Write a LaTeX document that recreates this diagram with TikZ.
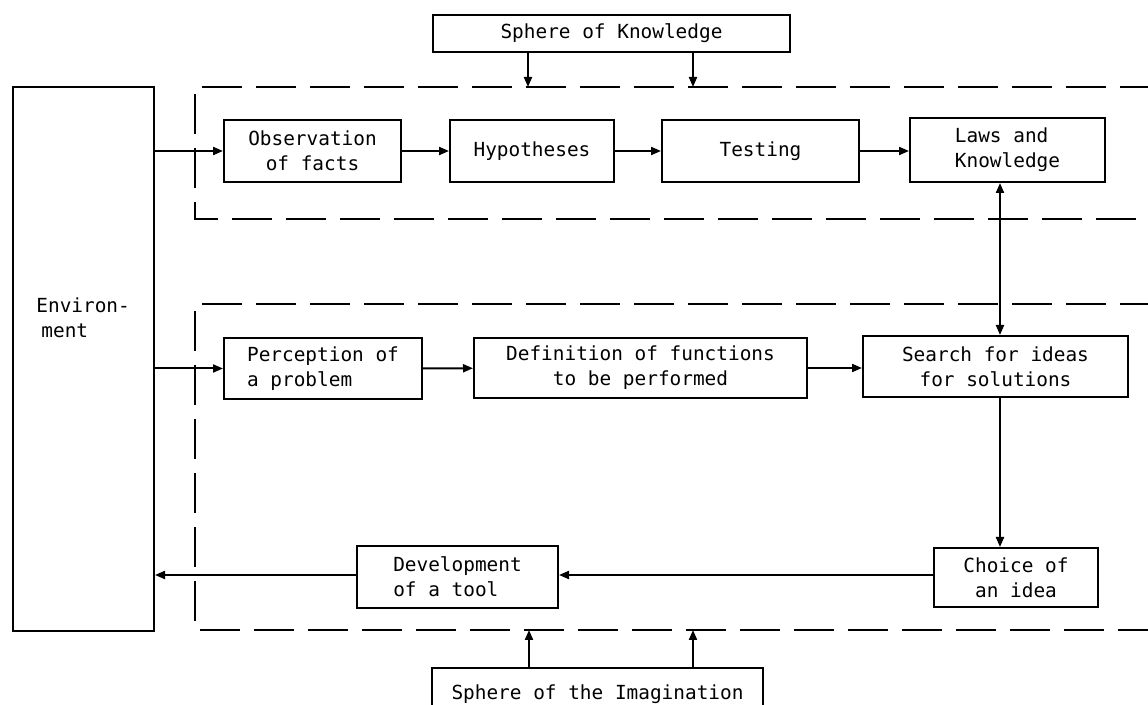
\documentclass[tikz,border=0pt]{standalone}
\usepackage{fontspec}
\setmonofont{DejaVu Sans Mono}
\usetikzlibrary{arrows.meta}
\begin{document}
\begin{tikzpicture}[x=0.5pt,y=-0.5pt,
    box/.style={draw,line width=1pt,inner sep=0pt,align=center,font=\ttfamily\fontsize{9.7}{12.5}\selectfont},
    txt/.style={inner sep=0pt,align=left,font=\ttfamily\fontsize{9.7}{12.5}\selectfont},
    arr/.style={line width=1pt,-{Triangle[length=5pt,width=4pt]}},
    dblarr/.style={line width=1pt,{Triangle[length=5pt,width=4pt]}-{Triangle[length=5pt,width=4pt]}},
    region/.style={line width=1pt,dash pattern=on 20pt off 7pt}]
    \clip (0,0) rectangle (1148,705);
    \fill[white] (0,0) rectangle (1148,705);
    % Spheres and environment
    \node[box,minimum width=178.5pt,minimum height=18.5pt] (know) at (611.5,33.5) {Sphere of Knowledge};
    \node[box,minimum width=165.5pt,minimum height=26pt] (imag) at (597.5,694) {Sphere of the Imagination};
    \node[box,minimum width=70.5pt,minimum height=272pt] (env) at (83.5,359) {};
    \node[txt,anchor=west] (envtext) at (36,318) {Environ-\\\hspace{2.5pt}ment};
    % Dashed regions, open to the right
    \draw[region] (1160,87) -- (195,87) -- (195,219) -- (1160,219);
    \draw[region] (1160,304) -- (195,304) -- (195,630) -- (1160,630);
    % Upper row
    \node[box,minimum width=88.5pt,minimum height=31pt] (obs) at (312.5,151) {Observation\\of facts};
    \node[box,minimum width=82pt,minimum height=31pt] (hyp) at (532,151) {Hypotheses};
    \node[box,minimum width=98.5pt,minimum height=31pt] (test) at (760.5,151) {Testing};
    \node[box,align=left,minimum width=97.5pt,minimum height=32pt] (laws) at (1007.5,150) {Laws and\\Knowledge};
    % Lower rows
    \node[box,align=left,minimum width=99pt,minimum height=30.5pt] (perc) at (323,368.5) {Perception of\\a problem};
    \node[box,minimum width=166.5pt,minimum height=30pt] (def) at (640.5,368) {Definition of functions\\to be performed};
    \node[box,minimum width=132.5pt,minimum height=30.5pt] (search) at (995.5,366.5) {Search for ideas\\for solutions};
    \node[box,minimum width=82pt,minimum height=29.5pt] (choice) at (1016,577.5) {Choice of\\an idea};
    \node[box,align=left,minimum width=100.5pt,minimum height=31pt] (dev) at (457.5,577) {Development\\of a tool};
    % Arrow ends
    \coordinate (kn1) at (528,87);
    \coordinate (kn2) at (693,87);
    \coordinate (im1) at (529,630);
    \coordinate (im2) at (693,630);
    \coordinate (vl) at (1000,0);
    % Connectors
    \draw[arr] (know.south -| kn1) -- (kn1);
    \draw[arr] (know.south -| kn2) -- (kn2);
    \draw[arr] (imag.north -| im1) -- (im1);
    \draw[arr] (imag.north -| im2) -- (im2);
    \draw[arr] (obs.west -| env.east) -- (obs.west);
    \draw[arr] (obs) -- (hyp);
    \draw[arr] (hyp) -- (test);
    \draw[arr] (test) -- (laws.west |- test);
    \draw[dblarr] (laws.south -| vl) -- (search.north -| vl);
    \draw[arr] (perc.west -| env.east) -- (perc.west);
    \draw[arr] (perc) -- (def);
    \draw[arr] (def) -- (search.west |- def);
    \draw[arr] (search.south -| vl) -- (choice.north -| vl);
    \draw[arr] (choice.west |- 0,575) -- (dev.east |- 0,575);
    \draw[arr] (dev.west |- 0,575) -- (env.east |- 0,575);
\end{tikzpicture}
\end{document}
